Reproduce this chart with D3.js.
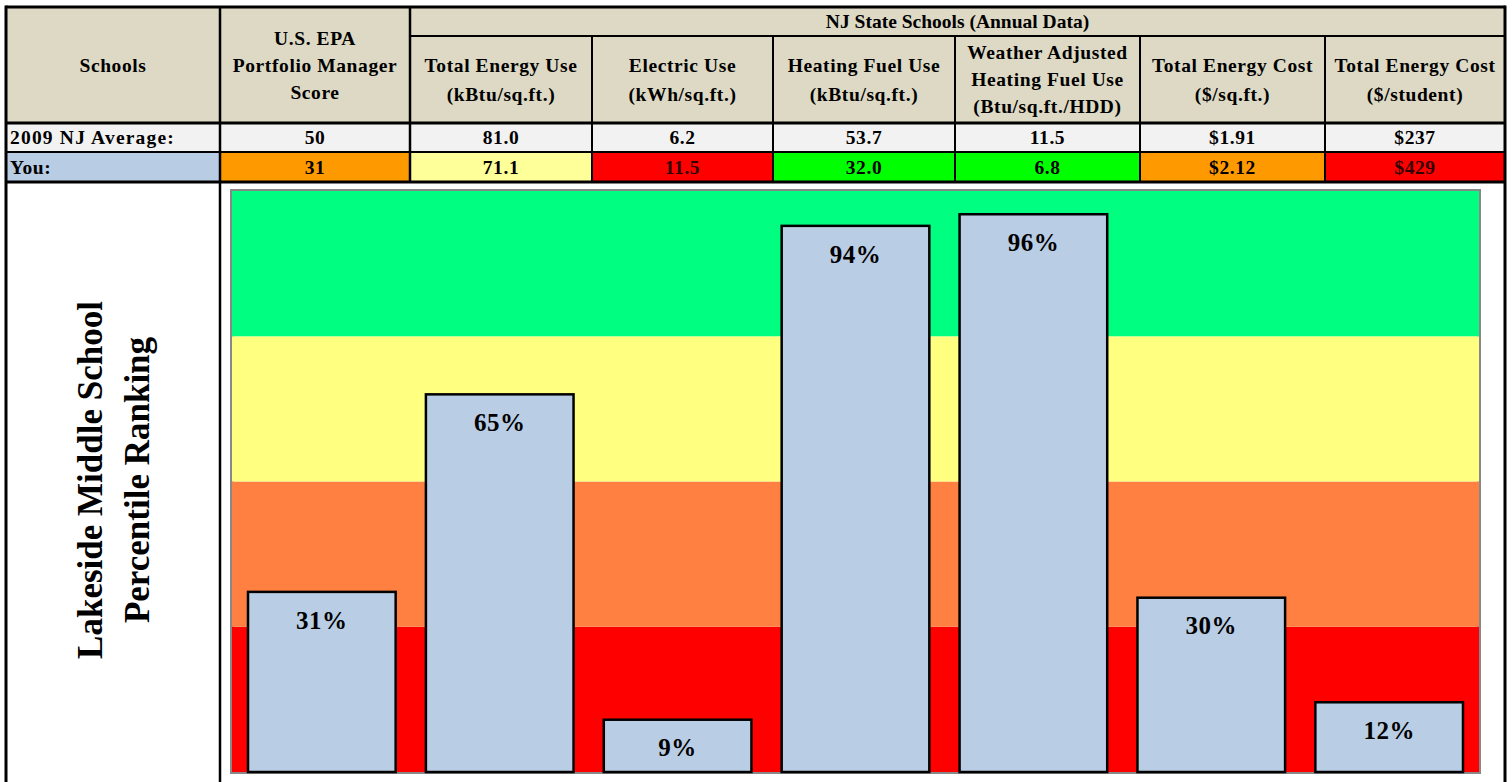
<!DOCTYPE html>
<html>
<head>
<meta charset="utf-8">
<script src="https://cdn.jsdelivr.net/npm/d3@7"></script>
<style>
  body { margin: 0; background: #fff; }
  text { font-family: "Liberation Serif", "Times New Roman", serif; font-weight: bold; }
</style>
</head>
<body>
<script>
// table data
var metrics = ['U.S. EPA Portfolio Manager Score', 'Total Energy Use', 'Electric Use', 'Heating Fuel Use',
  'Weather Adjusted Heating Fuel Use', 'Total Energy Cost', 'Total Energy Cost ($/student)'];
var headerLines = [
  ['U.S. EPA', 'Portfolio Manager', 'Score'],
  ['Total Energy Use', '(kBtu/sq.ft.)'],
  ['Electric Use', '(kWh/sq.ft.)'],
  ['Heating Fuel Use', '(kBtu/sq.ft.)'],
  ['Weather Adjusted', 'Heating Fuel Use', '(Btu/sq.ft./HDD)'],
  ['Total Energy Cost', '($/sq.ft.)'],
  ['Total Energy Cost', '($/student)']
];
var njAverage = ['50', '81.0', '6.2', '53.7', '11.5', '$1.91', '$237'];
var youValues = ['31', '71.1', '11.5', '32.0', '6.8', '$2.12', '$429'];
var youColors = ['#ff9900', '#ffff99', '#ff0000', '#00ff00', '#00ff00', '#ff9900', '#ff0000'];

// chart data
var percentiles = [31, 65, 9, 94, 96, 30, 12];
var bands = [
  { from: 0, to: 25, color: '#ff0000' },
  { from: 25, to: 50, color: '#ff8040' },
  { from: 50, to: 75, color: '#ffff80' },
  { from: 75, to: 100, color: '#00ff80' }
];

var W = 1512, H = 782;
var svg = d3.select('body').append('svg').attr('width', W).attr('height', H);

// column edges of the table
var colX = [6, 220, 410, 592, 773, 955, 1140, 1325, 1505];
var rowY = { top: 7, sub: 36, head: 123, avg: 152, you: 182 };
var fs = 19.5;
var ls = 0.6;

// header backgrounds
svg.append('rect').attr('x', colX[0]).attr('y', rowY.top).attr('width', colX[8] - colX[0])
  .attr('height', rowY.head - rowY.top).attr('fill', '#ddd9c4');
svg.append('rect').attr('x', colX[0]).attr('y', rowY.head).attr('width', colX[8] - colX[0])
  .attr('height', rowY.avg - rowY.head).attr('fill', '#f2f2f2');
svg.append('rect').attr('x', colX[0]).attr('y', rowY.avg).attr('width', colX[1] - colX[0])
  .attr('height', rowY.you - rowY.avg).attr('fill', '#b8cce4');

svg.selectAll('rect.youcell').data(youColors).enter().append('rect')
  .attr('class', 'youcell')
  .attr('x', function(d, i) { return colX[i + 1]; })
  .attr('y', rowY.avg)
  .attr('width', function(d, i) { return colX[i + 2] - colX[i + 1]; })
  .attr('height', rowY.you - rowY.avg)
  .attr('fill', function(d) { return d; });

var tt = function(x, y, s, anchor) {
  return svg.append('text').attr('x', x).attr('y', y).attr('dy', '0.35em')
    .attr('text-anchor', anchor || 'middle').attr('font-size', fs)
    .attr('letter-spacing', ls).text(s);
};

// header text
tt((colX[0] + colX[1]) / 2, 65, 'Schools');
tt((colX[2] + colX[8]) / 2, 21, 'NJ State Schools (Annual Data)').attr('letter-spacing', 0);

headerLines.forEach(function(lines, i) {
  var cx = (colX[i + 1] + colX[i + 2]) / 2;
  var top = i === 0 ? rowY.top : rowY.sub;
  var mid = (top + rowY.head) / 2;
  var lh = lines.length === 3 ? 27 : 29;
  lines.forEach(function(l, j) {
    tt(cx, mid + (j - (lines.length - 1) / 2) * lh, l);
  });
});

// rows
tt(10, (rowY.head + rowY.avg) / 2, '2009 NJ Average:', 'start').attr('letter-spacing', 1.2);
tt(10, (rowY.avg + rowY.you) / 2, 'You:', 'start');

svg.selectAll('text.avg').data(njAverage).enter().append('text')
  .attr('class', 'avg')
  .attr('x', function(d, i) { return (colX[i + 1] + colX[i + 2]) / 2; })
  .attr('y', (rowY.head + rowY.avg) / 2).attr('dy', '0.35em')
  .attr('text-anchor', 'middle').attr('font-size', fs).attr('letter-spacing', ls)
  .text(function(d) { return d; });

svg.selectAll('text.you').data(youValues).enter().append('text')
  .attr('class', 'you')
  .attr('x', function(d, i) { return (colX[i + 1] + colX[i + 2]) / 2; })
  .attr('y', (rowY.avg + rowY.you) / 2).attr('dy', '0.35em')
  .attr('text-anchor', 'middle').attr('font-size', fs).attr('letter-spacing', ls)
  .attr('fill', function(d, i) { return youColors[i] === '#ff0000' ? '#300000' : '#000'; })
  .text(function(d) { return d; });

// grid lines
var line = function(x1, y1, x2, y2, w) {
  svg.append('line').attr('x1', x1).attr('y1', y1).attr('x2', x2).attr('y2', y2)
    .attr('stroke', '#000').attr('stroke-width', w);
};
line(colX[2], rowY.sub, colX[8], rowY.sub, 2);
for (var i = 3; i < 8; i++) line(colX[i], rowY.sub, colX[i], rowY.you, 2);
line(colX[2], rowY.top, colX[2], rowY.you, 2.5);
line(colX[1], rowY.top, colX[1], H, 2.5);
line(colX[0], rowY.head, colX[8], rowY.head, 3);
line(colX[0], rowY.avg, colX[8], rowY.avg, 2);
line(colX[0], rowY.you, colX[8], rowY.you, 3);
line(colX[0], rowY.top, colX[8], rowY.top, 3);
line(colX[0], rowY.top - 1.5, colX[0], H, 3);
line(colX[8], rowY.top - 1.5, colX[8], H, 3);

// chart
var plot = { left: 232, right: 1479, top: 191, bottom: 772 };
var x = d3.scaleBand().domain(metrics).range([plot.left, plot.right])
  .paddingInner(0.17).paddingOuter(0.09);
var y = d3.scaleLinear().domain([0, 100]).range([plot.bottom, plot.top]);

svg.append('rect').attr('x', plot.left).attr('y', plot.top)
  .attr('width', plot.right - plot.left).attr('height', plot.bottom - plot.top)
  .attr('fill', 'none').attr('stroke', '#888').attr('stroke-width', 4);

svg.selectAll('rect.band').data(bands).enter().append('rect')
  .attr('class', 'band')
  .attr('x', plot.left)
  .attr('y', function(d) { return y(d.to); })
  .attr('width', plot.right - plot.left)
  .attr('height', function(d) { return y(d.from) - y(d.to); })
  .attr('fill', function(d) { return d.color; });

svg.selectAll('rect.bar').data(percentiles).enter().append('rect')
  .attr('class', 'bar')
  .attr('x', function(d, i) { return x(metrics[i]); })
  .attr('y', function(d) { return y(d); })
  .attr('width', x.bandwidth())
  .attr('height', function(d) { return y(0) - y(d); })
  .attr('fill', '#b9cde5').attr('stroke', '#000').attr('stroke-width', 2.5);

svg.selectAll('text.lbl').data(percentiles).enter().append('text')
  .attr('class', 'lbl')
  .attr('x', function(d, i) { return x(metrics[i]) + x.bandwidth() / 2; })
  .attr('y', function(d) { return y(d) + 28; })
  .attr('dy', '0.35em').attr('text-anchor', 'middle').attr('font-size', 25)
  .attr('letter-spacing', 0.5)
  .text(function(d) { return d + '%'; });

// y title
var ty = svg.append('g').attr('transform', 'translate(113,480) rotate(-90)');
ty.append('text').attr('x', 0).attr('y', -23).attr('dy', '0.35em').attr('text-anchor', 'middle')
  .attr('font-size', 35).text('Lakeside Middle School');
ty.append('text').attr('x', 0).attr('y', 24).attr('dy', '0.35em').attr('text-anchor', 'middle')
  .attr('font-size', 35).text('Percentile Ranking');
</script>
</body>
</html>
